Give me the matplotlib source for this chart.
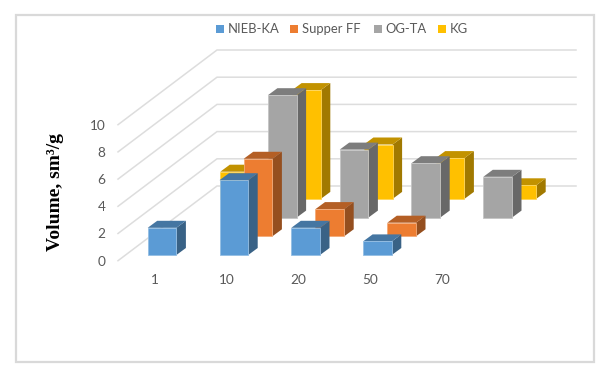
import matplotlib
matplotlib.use("Agg")
import matplotlib.pyplot as plt
from matplotlib.colors import to_rgb
from matplotlib.patches import Rectangle, Polygon

categories = ["1", "10", "20", "50", "70"]
nieb_ka = [2.0, 5.5, 2.0, 1.0, 0.0]
supper_ff = [0.0, 5.7, 2.0, 1.0, 0.0]
og_ta = [0.0, 9.0, 5.0, 4.0, 3.0]
kg = [2.0, 8.0, 4.0, 3.0, 1.0]
series_names = ["NIEB-KA", "Supper FF", "OG-TA", "KG"]
series_values = [nieb_ka, supper_ff, og_ta, kg]
series_colors = ["#5B9BD5", "#ED7D31", "#A5A5A5", "#FFC000"]
y_ticks = [0, 2, 4, 6, 8, 10]

# Oblique projection of the 3D chart, in figure pixels
UNIT = 13.6
CAT_STEP = 71.8
BAR_W = 28.7
BASE_X, BASE_Y = 147.7, 255.0
SER_DX, SER_DY = 24.2, -18.7
BAR_DX, BAR_DY = 9.5, -7.0
WALL_X0, WALL_Y0 = 118.0, 260.7
WALL_DX, WALL_DY = 99.0, -74.7
WALL_X1 = 576.0
GRID = "#DDDDDD"
TEXT = "#595959"

plt.rcParams["font.family"] = "Lato"
fig = plt.figure(figsize=(6.08, 3.78), dpi=100, facecolor="white")
ax = fig.add_axes([0, 0, 1, 1])
ax.set_xlim(0, 608)
ax.set_ylim(378, 0)
ax.axis("off")

ax.add_patch(Rectangle((15.7, 14.5), 578.6, 347.5, fill=False, ec="#D9D9D9", lw=1.6))


def shade(color, f):
    return tuple(c * f for c in to_rgb(color))


def light(color, f=0.35):
    return tuple(c + (1 - c) * f for c in to_rgb(color))


for t in y_ticks:
    y = WALL_Y0 - t * UNIT
    ax.plot([WALL_X0, WALL_X0 + WALL_DX, WALL_X1], [y, y + WALL_DY, y + WALL_DY],
            color=GRID, lw=1.1, solid_joinstyle="miter", zorder=1)
    ax.text(105.5, y + 1, str(t), ha="right", va="center", fontsize=9.8, color=TEXT)

z = 2
for s in range(len(series_values) - 1, -1, -1):
    vals, col = series_values[s], series_colors[s]
    for c in range(len(categories) - 1, -1, -1):
        v = vals[c]
        if v <= 0:
            continue
        x0 = BASE_X + c * CAT_STEP + s * SER_DX
        x1 = x0 + BAR_W
        yb = BASE_Y + s * SER_DY
        yt = yb - v * UNIT
        ax.add_patch(Polygon([(x1, yb), (x1 + BAR_DX, yb + BAR_DY), (x1 + BAR_DX, yt + BAR_DY), (x1, yt)],
                             fc=shade(col, 0.63), ec="none", zorder=z))
        ax.add_patch(Polygon([(x0, yt), (x1, yt), (x1 + BAR_DX, yt + BAR_DY), (x0 + BAR_DX, yt + BAR_DY)],
                             fc=shade(col, 0.76), ec="none", zorder=z))
        ax.add_patch(Polygon([(x0, yb), (x1, yb), (x1, yt), (x0, yt)],
                             fc=col, ec=light(col), lw=0.6, zorder=z + 0.5))
        z += 1

for c, name in enumerate(categories):
    ax.text(155 + c * 71.8, 279.5, name, ha="center", va="center", fontsize=9.8, color=TEXT)

legend_sq = [216, 290, 374, 438]
for x, name, col in zip(legend_sq, series_names, series_colors):
    ax.add_patch(Rectangle((x, 24.5), 8, 8, fc=col, ec="none"))
    ax.text(x + 11.5, 28.8, name, ha="left", va="center", fontsize=9.4, color=TEXT)

ax.text(55, 192, "Volume, sm\u00b3/g", rotation=90, ha="center", va="center",
        family="Liberation Serif", fontweight="bold", fontsize=14, color="black")

fig.savefig("out.png", dpi=100, facecolor="white")
